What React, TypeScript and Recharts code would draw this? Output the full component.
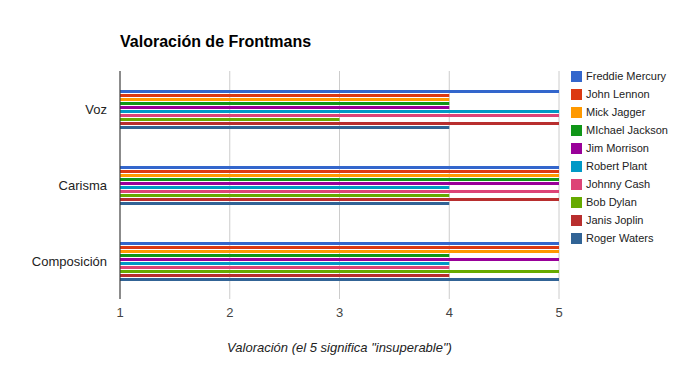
import { BarChart, Bar, XAxis, YAxis, CartesianGrid } from "recharts";

const categories = ["Voz", "Carisma", "Composición"];

const singers = [
  "Freddie Mercury",
  "John Lennon",
  "Mick Jagger",
  "MIchael Jackson",
  "Jim Morrison",
  "Robert Plant",
  "Johnny Cash",
  "Bob Dylan",
  "Janis Joplin",
  "Roger Waters",
];

const colors = [
  "#3366cc",
  "#dc3912",
  "#ff9900",
  "#109618",
  "#990099",
  "#0099c6",
  "#dd4477",
  "#66aa00",
  "#b82e2e",
  "#316395",
];

// one array per singer: Voz, Carisma, Composición
const freddieMercury = [5, 5, 5];
const johnLennon = [4, 5, 5];
const mickJagger = [4, 5, 5];
const michaelJackson = [4, 5, 4];
const jimMorrison = [4, 5, 5];
const robertPlant = [5, 4, 4];
const johnnyCash = [5, 5, 4];
const bobDylan = [3, 4, 5];
const janisJoplin = [5, 5, 4];
const rogerWaters = [4, 4, 5];

const values = [
  freddieMercury,
  johnLennon,
  mickJagger,
  michaelJackson,
  jimMorrison,
  robertPlant,
  johnnyCash,
  bobDylan,
  janisJoplin,
  rogerWaters,
];

const ticks = [1, 2, 3, 4, 5];

const data = categories.map((name, i) => {
  const row: Record<string, string | number> = { name };
  singers.forEach((s, j) => {
    row[s] = values[j][i];
  });
  return row;
});

const font = "Arial, 'Liberation Sans', sans-serif";

const LegendBox = () => (
  <div
    style={{
      position: "absolute",
      left: 571,
      top: 67,
      fontFamily: font,
      fontSize: 11,
      color: "#222",
    }}
  >
    {singers.map((s, i) => (
      <div key={s} style={{ display: "flex", alignItems: "center", height: 18 }}>
        <div style={{ width: 11, height: 11, background: colors[i], marginRight: 4 }} />
        <span>{s}</span>
      </div>
    ))}
  </div>
);

const App = () => {
  return (
    <div style={{ position: "absolute", left: 0, top: 0, width: 679, height: 371, background: "#fff" }}>
      <div
        style={{
          position: "absolute",
          left: 120,
          top: 33,
          fontFamily: font,
          fontSize: 16,
          fontWeight: "bold",
          color: "#000",
        }}
      >
        Valoración de Frontmans
      </div>
      <BarChart
        width={679}
        height={371}
        data={data}
        layout="vertical"
        margin={{ top: 71, right: 120, bottom: 0, left: 0 }}
        barSize={3}
        barGap={1}
      >
        <CartesianGrid horizontal={false} stroke="#ccc" />
        <XAxis
          type="number"
          domain={[1, 5]}
          ticks={ticks}
          height={72}
          axisLine={false}
          tickLine={false}
          tickMargin={3}
          tick={{ fill: "#444", fontSize: 13, fontFamily: font }}
          label={{
            value: 'Valoración (el 5 significa "insuperable")',
            position: "insideBottom",
            offset: 19,
            style: { fill: "#222", fontSize: 13, fontStyle: "italic", fontFamily: font },
          }}
        />
        <YAxis
          type="category"
          dataKey="name"
          width={120}
          axisLine={{ stroke: "#333" }}
          tickLine={false}
          tickMargin={7}
          tick={{ fill: "#222", fontSize: 13, fontFamily: font }}
        />
        {singers.map((s, i) => (
          <Bar key={s} dataKey={s} fill={colors[i]} isAnimationActive={false} />
        ))}
      </BarChart>
      <LegendBox />
    </div>
  );
};

export default App;
